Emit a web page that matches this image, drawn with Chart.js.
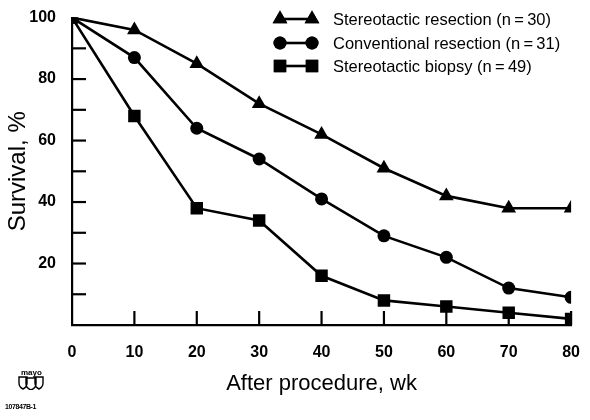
<!DOCTYPE html>
<html>
<head>
<meta charset="utf-8">
<script src="https://cdn.jsdelivr.net/npm/chart.js@4"></script>
<style>
  body { margin: 0; background: #fff; }
  #wrap { position: relative; width: 590px; height: 420px; }
  #mayo { position: absolute; left: 21px; top: 368px; font: bold 8px "Liberation Sans", Arial, sans-serif; }
  #logo { position: absolute; left: 18px; top: 376px; }
  #code { position: absolute; left: 5px; top: 403px; font: bold 7px "Liberation Sans", Arial, sans-serif; letter-spacing: -0.4px; }
</style>
</head>
<body>
<div id="wrap">
  <canvas id="myChart" width="590" height="420"></canvas>
  <div id="mayo">mayo</div>
  <svg id="logo" width="26" height="14" viewBox="0 0 26 14">
    <path d="M1 1 H9 V7 Q9 11 5 13 Q1 11 1 7 Z M17 1 H25 V7 Q25 11 21 13 Q17 11 17 7 Z M8 2 H18 V8 Q18 12 13 14 Q8 12 8 8 Z" fill="none" stroke="#000" stroke-width="1.4"/>
  </svg>
  <div id="code">107847B-1</div>
</div>
<script>
// weeks after procedure
const weeks = [0, 10, 20, 30, 40, 50, 60, 70, 80];
// survival, %
const stereoResection = [100, 96, 85, 72, 62, 51, 42, 38, 38];
const convResection = [100, 87, 64, 54, 41, 29, 22, 12, 9];
const stereoBiopsy = [100, 68, 38, 34, 16, 8, 6, 4, 2];
const seriesNames = ['Stereotactic resection (n\u2009=\u200930)', 'Conventional resection (n\u2009=\u200931)', 'Stereotactic biopsy (n\u2009=\u200949)'];
const seriesMarkers = ['triangle', 'circle', 'rect'];
const yTickLabels = [20, 40, 60, 80, 100];

const font = '"Liberation Sans", Arial, Helvetica, sans-serif';
const markerSize = [8.5, 6.5, 8.8];

function toPoints(vals) {
  return vals.map((v, i) => ({ x: weeks[i], y: v }));
}

function makeSet(i, vals) {
  return {
    label: seriesNames[i],
    data: toPoints(vals),
    borderColor: '#000',
    backgroundColor: '#000',
    borderWidth: 2.6,
    pointStyle: seriesMarkers[i],
    pointRadius: markerSize[i],
    pointBorderWidth: 0,
    tension: 0
  };
}

// inward tick marks + custom legend
const extras = {
  id: 'extras',
  afterDatasetsDraw(chart) {
    const c = chart.ctx;
    const xs = chart.scales.x, ys = chart.scales.y;
    const left = chart.chartArea.left, bottom = chart.chartArea.bottom;
    c.save();
    c.strokeStyle = '#000';
    c.lineWidth = 2.2;
    for (let v = 10; v <= 90; v += 10) {
      const py = ys.getPixelForValue(v);
      c.beginPath(); c.moveTo(left, py); c.lineTo(left + 14, py); c.stroke();
    }
    weeks.forEach(w => {
      if (w === 0) return;
      const px = xs.getPixelForValue(w);
      c.beginPath(); c.moveTo(px, bottom); c.lineTo(px, bottom - 14); c.stroke();
    });

    // legend
    const rows = [19, 43, 66];
    rows.forEach((ry, i) => {
      c.fillStyle = '#000';
      c.lineWidth = 2.6;
      c.beginPath(); c.moveTo(280, ry); c.lineTo(312, ry); c.stroke();
      [280, 312].forEach(mx => {
        Chart.helpers.drawPoint(c, { pointStyle: seriesMarkers[i], radius: markerSize[i], borderWidth: 0 }, mx, ry);
        c.fill();
      });
      c.font = '16.5px ' + font;
      c.textBaseline = 'middle';
      c.textAlign = 'left';
      c.fillText(seriesNames[i], 333, ry + 1);
    });
    c.restore();
  }
};

const ctx = document.getElementById('myChart').getContext('2d');
const myChart = new Chart(ctx, {
  type: 'line',
  data: {
    datasets: [
      makeSet(0, stereoResection),
      makeSet(1, convResection),
      makeSet(2, stereoBiopsy)
    ]
  },
  options: {
    responsive: false,
    animation: false,
    layout: { padding: { top: 15, right: 10, left: 0, bottom: 19 } },
    plugins: { legend: { display: false }, tooltip: { enabled: false } },
    scales: {
      x: {
        type: 'linear',
        min: 0, max: 80,
        afterFit(s) { s.height = 76; },
        border: { color: '#000', width: 2.2 },
        grid: { display: false },
        ticks: {
          stepSize: 10,
          color: '#000',
          font: { family: font, size: 16, weight: 'bold' },
          padding: 10
        },
        title: {
          display: true,
          text: 'After procedure, wk',
          color: '#000',
          font: { family: font, size: 22 },
          padding: { top: 14 }
        }
      },
      y: {
        min: 0, max: 100,
        afterFit(s) { s.width = 72; },
        border: { color: '#000', width: 2.2 },
        grid: { display: false },
        ticks: {
          stepSize: 10,
          color: '#000',
          font: { family: font, size: 16, weight: 'bold' },
          padding: 8,
          callback: v => yTickLabels.includes(v) ? String(v) : ''
        },
        title: {
          display: true,
          text: 'Survival, %',
          color: '#000',
          font: { family: font, size: 24 },
          padding: { bottom: 4 }
        }
      }
    }
  },
  plugins: [extras]
});
</script>
</body>
</html>
